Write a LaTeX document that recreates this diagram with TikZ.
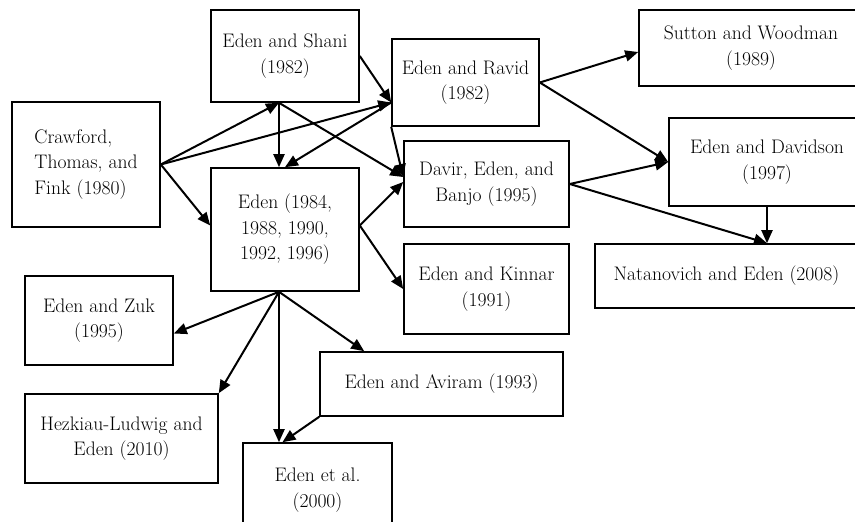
\documentclass[tikz,border=0pt]{standalone}
\usetikzlibrary{arrows.meta,positioning}
\tikzset{
    paper/.style={draw,line width=1.6pt,rectangle,inner sep=0pt,align=center,font=\fontsize{19.6}{25.5}\selectfont},
}

\begin{document}
\begin{tikzpicture}[->,>={Triangle[length=13pt,width=11pt]},x=1pt,y=-1pt,line width=2pt]
            \useasboundingbox (0,0) rectangle (855,522);
            \clip (0,0) rectangle (855,522);
            \node[paper,minimum width=148pt,minimum height=125pt,align=left] (crawford) at (86,164.5) {Crawford,\\Thomas, and\\Fink (1980)};
            \node[paper,minimum width=148pt,minimum height=92pt] (shani) at (285,56) {Eden and Shani\\(1982)};
            \node[paper,minimum width=148pt,minimum height=123pt] (eden) at (285,229.5) {Eden (1984,\\1988, 1990,\\1992, 1996)};
            \node[paper,minimum width=147pt,minimum height=87pt] (ravid) at (465.5,82.5) {Eden and Ravid\\(1982)};
            \node[paper,minimum width=165pt,minimum height=86pt] (davir) at (486.5,184) {Davir, Eden, and\\Banjo (1995)};
            \node[paper,minimum width=165pt,minimum height=90pt] (kinnar) at (486.5,289) {Eden and Kinnar\\(1991)};
            \node[paper,minimum width=224pt,minimum height=76pt] (sutton) at (751,48) {Sutton and Woodman\\(1989)};
            \node[paper,minimum width=196pt,minimum height=88pt] (davidson) at (767,162) {Eden and Davidson\\(1997)};
            \node[paper,minimum width=263pt,minimum height=64pt] (natan) at (726.5,276) {Natanovich and Eden (2008)};
            \node[paper,minimum width=148pt,minimum height=89pt] (zuk) at (99,320.5) {Eden and Zuk\\(1995)};
            \node[paper,minimum width=193pt,minimum height=89pt] (hezk) at (121.5,438.5) {Hezkiau-Ludwig and\\Eden (2010)};
            \node[paper,minimum width=243pt,minimum height=64pt] (aviram) at (441.5,384) {Eden and Aviram (1993)};
            \node[paper,minimum width=149pt,minimum height=94pt] (etal) at (317.5,490) {Eden et al.\\(2000)};

            \path
                (crawford.east) edge ([xshift=-6pt]shani.south)
                (crawford.east) edge ([yshift=-20pt]ravid.west)
                (crawford.east) edge ([yshift=4pt]eden.west)
                (shani.east) edge ([yshift=-20pt]ravid.west)
                ([xshift=-6pt]shani.south) edge ([xshift=-6pt]eden.north)
                ([xshift=-6pt]shani.south) edge ([yshift=7pt]davir.west)
                ([yshift=-20pt]ravid.west) edge (eden.north)
                (ravid.south west) edge ([yshift=7pt]davir.west)
                ([yshift=4pt]eden.east) edge ([yshift=2pt]davir.west)
                ([yshift=4pt]eden.east) edge (kinnar.west)
                (ravid.east) edge ([yshift=-4pt]sutton.west)
                (ravid.east) edge (davidson.west)
                (davir.east) edge (davidson.west)
                (davir.east) edge (davidson.south |- natan.north)
                (davidson.south) edge (davidson.south |- natan.north)
                ([xshift=-6pt]eden.south) edge ([yshift=-13pt]zuk.east)
                ([xshift=-6pt]eden.south) edge (hezk.north east)
                ([xshift=-6pt]eden.south) edge ([xshift=-6pt]eden.south |- etal.north)
                ([xshift=-6pt]eden.south) edge ([xshift=45pt]aviram.north west)
                (aviram.south west) edge ([xshift=-35pt]etal.north)
                ;
        \end{tikzpicture}
\end{document}
